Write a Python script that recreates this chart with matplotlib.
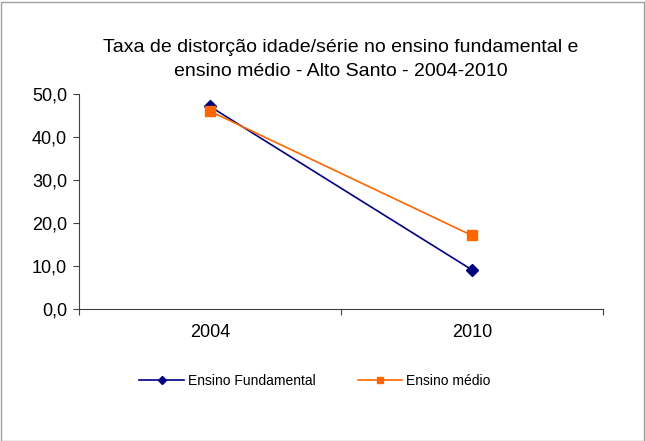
import matplotlib.pyplot as plt
from matplotlib.patches import Rectangle

plt.rcParams['font.family'] = ['Liberation Sans', 'DejaVu Sans']

anos = ['2004', '2010']
fundamental = [47.1, 9.1]
medio = [46.0, 17.1]
yticks = [0, 10, 20, 30, 40, 50]

fig = plt.figure(figsize=(6.45, 4.41), dpi=100)
ax = fig.add_axes([79/645, 1 - 309/441, 524/645, 215/441])

x = range(len(anos))
ax.plot(x, fundamental, color='#000080', marker='D', markersize=6.5, lw=1.2,
        label='Ensino Fundamental')
ax.plot(x, medio, color='#FF6600', marker='s', markersize=6.5, lw=1.2,
        label='Ensino médio')

ax.set_xlim(-0.5, 1.5)
ax.set_ylim(0, 50)
ax.set_yticks(yticks)
ax.set_yticklabels([('%.1f' % v).replace('.', ',') for v in yticks], fontsize=13)
ax.set_xticks([-0.5, 0.5, 1.5])
ax.set_xticklabels([])
ax.set_xticks(list(x), minor=True)
ax.set_xticklabels(anos, minor=True, fontsize=13)
ax.tick_params(axis='x', which='minor', length=0, pad=11)
ax.tick_params(axis='x', which='major', length=4.5, color='#404040', direction='out')
ax.tick_params(axis='y', length=4.5, color='#404040', direction='out', pad=4)

for s in ['top', 'right']:
    ax.spines[s].set_visible(False)
ax.spines['left'].set_color('#404040')
ax.spines['bottom'].set_color('#404040')

fig.text(341/645, 1 - 47/441, 'Taxa de distorção idade/série no ensino fundamental e',
         ha='center', va='center', fontsize=14)
fig.text(341/645, 1 - 71/441, 'ensino médio - Alto Santo - 2004-2010',
         ha='center', va='center', fontsize=14)

leg = fig.legend(loc='center', bbox_to_anchor=(315/645, 1 - 381/441), ncol=2,
                 frameon=False, fontsize=10, handlelength=3.2, columnspacing=3,
                 handletextpad=0.3, markerscale=0.65)

fig.patches.append(Rectangle((0.5/645, 0.5/441), 643/645, 439/441, transform=fig.transFigure,
                             fill=False, edgecolor='#a0a0a0', lw=1))

fig.savefig('out.png', dpi=100)
